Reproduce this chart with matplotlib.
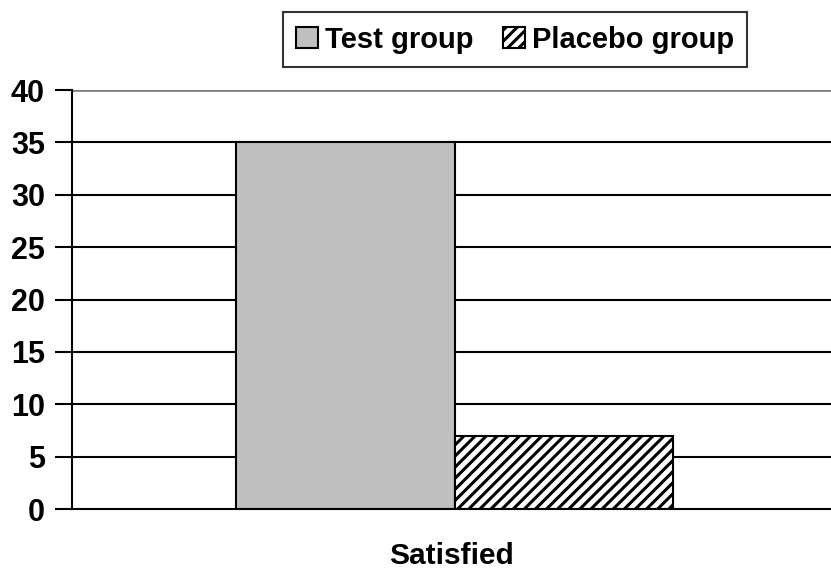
import matplotlib
matplotlib.use("Agg")
import matplotlib.pyplot as plt

categories = ["Satisfied"]
series_names = ["Test group", "Placebo group"]
test_values = [35]
placebo_values = [7]
y_ticks = [0, 5, 10, 15, 20, 25, 30, 35, 40]

plt.rcParams['font.family'] = ['Liberation Sans', 'DejaVu Sans']
plt.rcParams['font.weight'] = 'bold'
plt.rcParams['hatch.linewidth'] = 2.2

fig = plt.figure(figsize=(8.31, 5.70), dpi=100)
ax = fig.add_axes([0.0866, 0.107, 0.9134, 0.735])

width = 0.288
x0 = 0.004
ax.bar([x0 - width / 2], test_values, width=width, color="#c0c0c0",
       edgecolor="black", linewidth=1.5, label=series_names[0], zorder=3)
ax.bar([x0 + width / 2], placebo_values, width=width, color="white",
       edgecolor="black", hatch="///", linewidth=1.5, label=series_names[1], zorder=3)

ax.set_xlim(-0.5, 0.5)
ax.set_ylim(0, 40)
ax.set_yticks(y_ticks)
ax.set_yticklabels([str(v) for v in y_ticks], fontsize=22, fontweight='bold')
ax.set_xticks([0])
ax.set_xticklabels(categories, fontsize=21.5, fontweight='bold')
ax.tick_params(axis='x', length=0, pad=24)
ax.tick_params(axis='y', direction='out', length=12, width=1.5, pad=7.5)

for v in y_ticks[1:-1]:
    ax.axhline(v, color="black", linewidth=1.5, zorder=1)
ax.axhline(40, color="#808080", linewidth=2, zorder=1)

for s in ["top", "right"]:
    ax.spines[s].set_visible(False)
ax.spines["left"].set_linewidth(1.5)
ax.spines["bottom"].set_linewidth(1.5)
ax.spines["left"].set_zorder(4)
ax.spines["bottom"].set_zorder(4)

leg = fig.legend(loc="center left", bbox_to_anchor=(0.3406, 0.9307), ncol=2,
                 prop={'size': 21, 'weight': 'bold'}, frameon=True, fancybox=False,
                 handlelength=0.75, handleheight=0.75, handletextpad=0.25,
                 columnspacing=1.0, borderpad=0.45, borderaxespad=0, edgecolor="black")
leg.get_frame().set_linewidth(1.5)

fig.savefig("out.png", dpi=100)
